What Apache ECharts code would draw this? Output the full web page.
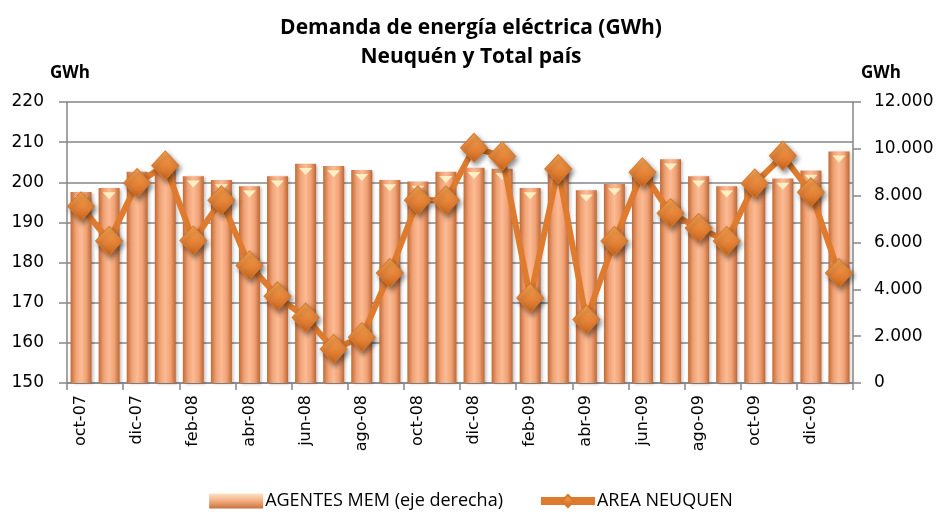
<!DOCTYPE html>
<html>
<head>
<meta charset="utf-8">
<script src="https://cdn.jsdelivr.net/npm/echarts@6/dist/echarts.min.js"></script>
<style>
html,body{margin:0;padding:0;background:#fff;}
#chart{width:942px;height:527px;}
</style>
</head>
<body>
<div id="chart"></div>
<script>
const categories = ['oct-07','nov-07','dic-07','ene-08','feb-08','mar-08','abr-08','may-08','jun-08','jul-08','ago-08','sep-08','oct-08','nov-08','dic-08','ene-09','feb-09','mar-09','abr-09','may-09','jun-09','jul-09','ago-09','sep-09','oct-09','nov-09','dic-09','ene-10'];
const agentesMem = [8160, 8330, 9020, 9250, 8830, 8670, 8400, 8830, 9360, 9270, 9100, 8670, 8600, 9020, 9190, 9150, 8330, 9100, 8230, 8500, 8950, 9550, 8830, 8400, 8550, 8730, 9070, 9890];
const areaNeuquen = [194.0, 185.4, 199.8, 204.2, 185.5, 195.5, 179.3, 171.6, 166.3, 158.5, 161.4, 177.4, 195.5, 195.5, 208.6, 206.5, 171.2, 203.3, 165.8, 185.4, 202.5, 192.3, 188.6, 185.4, 199.7, 206.6, 197.5, 177.4];
const leftTicks = {min: 150, max: 220, interval: 10};
const rightTicks = {min: 0, max: 12000, interval: 2000};
const seriesNames = ['AGENTES MEM (eje derecha)', 'AREA NEUQUEN'];
const titleText = 'Demanda de energía eléctrica (GWh)\nNeuquén y Total país';

const chart = echarts.init(document.getElementById('chart'), null, {renderer: 'canvas'});
const G = echarts.graphic;
const barGrad = new G.LinearGradient(0, 0, 1, 0, [
  {offset: 0, color: '#c26a36'},
  {offset: 0.25, color: '#f0a275'},
  {offset: 0.5, color: '#fbbb95'},
  {offset: 0.75, color: '#f0a275'},
  {offset: 1, color: '#bf6632'}
]);
const markerGrad = new G.LinearGradient(0, 0, 0, 1, [
  {offset: 0, color: '#f7a853'},
  {offset: 0.5, color: '#e8863a'},
  {offset: 1, color: '#c8651e'}
]);
const axisGrey = '#868686';
const fmtThousands = v => String(v).replace(/\B(?=(\d{3})+(?!\d))/g, '.');

chart.setOption({
  animation: false,
  backgroundColor: '#ffffff',
  title: {
    text: titleText,
    left: 'center',
    top: 9,
    textStyle: {fontFamily: 'Open Sans', fontWeight: 'bold', fontSize: 21, lineHeight: 29, color: '#000'}
  },
  graphic: [
    {type: 'text', left: 50, top: 65, style: {text: 'GWh', font: 'bold 17px "Open Sans"', fill: '#000'}},
    {type: 'text', left: 861, top: 65, style: {text: 'GWh', font: 'bold 17px "Open Sans"', fill: '#000'}}
  ],
  legend: {
    bottom: 12,
    left: 'center',
    itemGap: 34,
    itemWidth: 54,
    itemHeight: 15,
    textStyle: {fontFamily: '"Liberation Sans Narrow", "Open Sans", sans-serif', fontSize: 18, color: '#000', padding: [0, 0, 0, -3]},
    data: [
      {name: seriesNames[0], icon: 'rect', itemStyle: {color: new G.LinearGradient(0, 0, 0, 1, [
        {offset: 0, color: '#fde2c8'}, {offset: 0.5, color: '#f4ad80'}, {offset: 1, color: '#c8713c'}])}},
      {name: seriesNames[1], lineStyle: {width: 8, color: '#de7b2f'}}
    ]
  },
  grid: {left: 67, right: 89, top: 102, bottom: 144, containLabel: false},
  xAxis: {
    type: 'category',
    data: categories,
    boundaryGap: true,
    axisLine: {show: true, lineStyle: {color: axisGrey, width: 1.5}},
    axisTick: {show: true, interval: 1, length: 7, lineStyle: {color: axisGrey, width: 1.5}},
    axisLabel: {interval: 1, rotate: 90, margin: 12, fontFamily: 'DejaVu Sans', fontSize: 16, color: '#000'}
  },
  yAxis: [
    {
      type: 'value',
      min: leftTicks.min, max: leftTicks.max, interval: leftTicks.interval,
      position: 'left',
      axisLine: {show: true, lineStyle: {color: axisGrey, width: 1.5}},
      axisTick: {show: true, inside: false, length: 8, lineStyle: {color: axisGrey, width: 1.5}},
      axisLabel: {margin: 23, fontFamily: 'DejaVu Sans', fontSize: 17, color: '#000'},
      splitLine: {show: true, lineStyle: {color: axisGrey, width: 1.5}}
    },
    {
      type: 'value',
      min: rightTicks.min, max: rightTicks.max, interval: rightTicks.interval,
      position: 'right',
      axisLine: {show: true, lineStyle: {color: axisGrey, width: 1.5}},
      axisTick: {show: true, inside: false, length: 8, lineStyle: {color: axisGrey, width: 1.5}},
      axisLabel: {margin: 21, fontFamily: 'DejaVu Sans', fontSize: 17, color: '#000', formatter: fmtThousands},
      splitLine: {show: false}
    }
  ],
  series: [
    {
      name: seriesNames[0],
      type: 'bar',
      yAxisIndex: 1,
      data: agentesMem,
      barWidth: 21,
      z: 2,
      itemStyle: {color: barGrad, shadowBlur: 3, shadowColor: 'rgba(0,0,0,0.25)', shadowOffsetX: 2, shadowOffsetY: 1}
    },
    {
      name: 'cap',
      type: 'pictorialBar',
      yAxisIndex: 1,
      data: agentesMem,
      symbol: 'path://M0,0 L12,0 L6,7 Z',
      symbolSize: [13, 7],
      symbolPosition: 'end',
      symbolOffset: [0, '60%'],
      silent: true,
      z: 3,
      itemStyle: {color: '#fff2c6', opacity: 0.95}
    },
    {
      name: seriesNames[1],
      type: 'line',
      yAxisIndex: 0,
      data: areaNeuquen,
      z: 5,
      showAllSymbol: true,
      symbol: 'diamond',
      symbolSize: [27, 29],
      lineStyle: {color: '#de7b2f', width: 6},
      itemStyle: {color: markerGrad, borderColor: '#d7782d', borderWidth: 1, shadowBlur: 5, shadowColor: 'rgba(0,0,0,0.45)', shadowOffsetX: 2, shadowOffsetY: 3}
    }
  ]
});
</script>
</body>
</html>
